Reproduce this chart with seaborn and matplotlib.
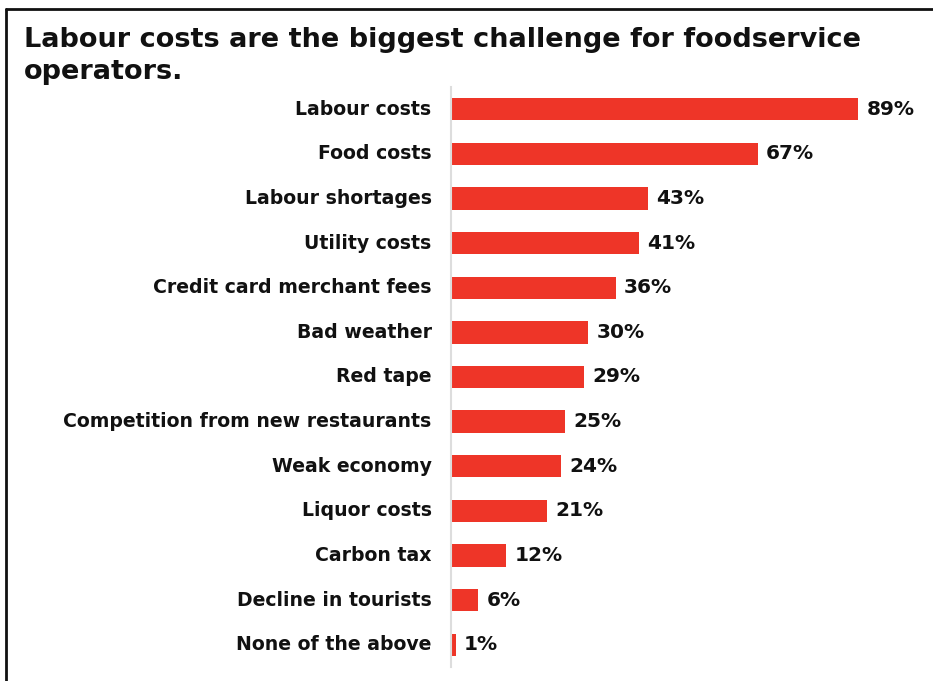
import matplotlib
matplotlib.use("Agg")
import matplotlib.pyplot as plt
import seaborn as sns
import pandas as pd
from matplotlib.lines import Line2D

categories = [
    "Labour costs",
    "Food costs",
    "Labour shortages",
    "Utility costs",
    "Credit card merchant fees",
    "Bad weather",
    "Red tape",
    "Competition from new restaurants",
    "Weak economy",
    "Liquor costs",
    "Carbon tax",
    "Decline in tourists",
    "None of the above",
]
values = [89, 67, 43, 41, 36, 30, 29, 25, 24, 21, 12, 6, 1]
value_labels = [f"{v}%" for v in values]

title = "Labour costs are the biggest challenge for foodservice\noperators."
bar_color = "#EE3528"

sns.set_theme(style="white")
plt.rcParams["font.family"] = ["DejaVu Sans"]

df = pd.DataFrame({"challenge": categories, "share": values})

fig = plt.figure(figsize=(9.33, 6.81), dpi=100)
W, H = 933, 681
ax = fig.add_axes([451 / W, 1 - 667 / H, (925 - 451) / W, (667 - 87) / H])

sns.barplot(data=df, x="share", y="challenge", color=bar_color, width=0.5,
            saturation=1, ax=ax, edgecolor="none")

ax.set_xlim(0, 103.6)
ax.set_ylim(12.5, -0.5)
ax.set_xlabel("")
ax.set_ylabel("")
ax.set_xticks([])
for s in ["top", "right", "bottom"]:
    ax.spines[s].set_visible(False)
ax.spines["left"].set_color("#DDDDDD")
ax.spines["left"].set_linewidth(1.5)
ax.tick_params(axis="y", length=0, pad=14)
for lab in ax.get_yticklabels():
    lab.set_fontsize(13.6)
    lab.set_fontweight("bold")
    lab.set_color("#111111")
    lab.set_verticalalignment("center")

for cont in ax.containers:
    ax.bar_label(cont, labels=value_labels, padding=6, fontsize=14.5,
                 fontweight="bold", color="#111111")

fig.text(24 / W, 1 - 27 / H, title, ha="left", va="top", fontsize=19.5,
         fontweight="bold", color="#111111", linespacing=1.3)

# frame lines along the top and left of the figure
fig.add_artist(Line2D([6 / W, 1], [1 - 9 / H, 1 - 9 / H], color="#111111",
                      lw=2, transform=fig.transFigure))
fig.add_artist(Line2D([6 / W, 6 / W], [1 - 9 / H, 0], color="#111111",
                      lw=2, transform=fig.transFigure))

fig.savefig("out.png", dpi=100)
